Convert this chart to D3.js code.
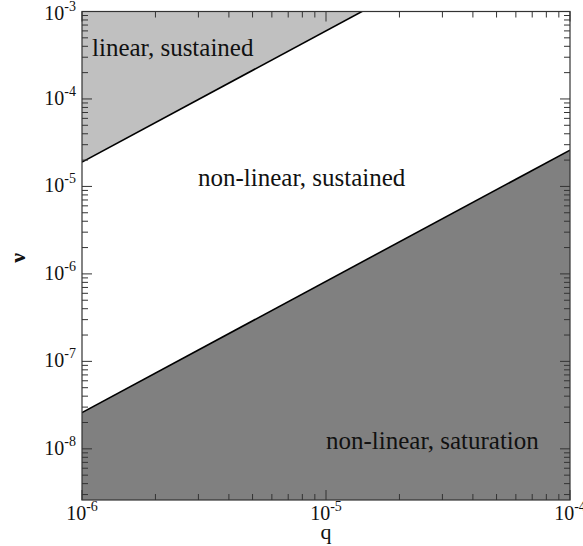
<!DOCTYPE html>
<html>
<head>
<meta charset="utf-8">
<script src="https://cdn.jsdelivr.net/npm/d3@7"></script>
<style>
  body { margin: 0; background: #fff; }
  svg text { font-family: 'Liberation Serif', 'Times New Roman', Times, 'DejaVu Serif', serif; fill: #111; }
</style>
</head>
<body>
<div id="chart"></div>
<script>
// axis ranges
var qDomain = [1e-6, 1e-4];
var nuDomain = [2.6e-9, 1e-3];
var xTickLabels = ['-6', '-5', '-4'];
var yTickLabels = ['-8', '-7', '-6', '-5', '-4', '-3'];

// boundaries (nu at q = 1e-6 and q = 1e-4)
var boundaryQ = [1e-6, 1e-4];
var upperNu = [1.9e-5, 1.9e-2];
var lowerNu = [2.6e-8, 2.6e-5];

var regionNames = ['linear, sustained', 'non-linear, sustained', 'non-linear, saturation'];

var width = 583, height = 546;
var margin = {top: 11.5, right: 13, bottom: 46, left: 82};

var svg = d3.select('#chart').append('svg')
	.attr('width', width)
	.attr('height', height);

var x = d3.scaleLog().domain(qDomain).range([margin.left, width - margin.right]);
var y = d3.scaleLog().domain(nuDomain).range([height - margin.bottom, margin.top]);

var x0 = x.range()[0], x1 = x.range()[1];
var yb = y.range()[0], yt = y.range()[1];

svg.append('clipPath').attr('id', 'plot')
	.append('rect')
	.attr('x', x0).attr('y', yt)
	.attr('width', x1 - x0).attr('height', yb - yt);

var upper = boundaryQ.map(function(q, i) { return {q: q, nu: upperNu[i]}; });
var lower = boundaryQ.map(function(q, i) { return {q: q, nu: lowerNu[i]}; });

var plot = svg.append('g').attr('clip-path', 'url(#plot)');

// saturation region (below lower line)
plot.append('path')
	.datum(lower)
	.attr('fill', '#808080')
	.attr('d', d3.area()
		.x(function(d) { return x(d.q); })
		.y0(yb)
		.y1(function(d) { return y(d.nu); }));

// linear region (above upper line)
plot.append('path')
	.datum(upper)
	.attr('fill', '#c0c0c0')
	.attr('d', d3.area()
		.x(function(d) { return x(d.q); })
		.y0(function(d) { return y(d.nu); })
		.y1(yt));

var line = d3.line()
	.x(function(d) { return x(d.q); })
	.y(function(d) { return y(d.nu); });

[upper, lower].forEach(function(b) {
	plot.append('path')
		.datum(b)
		.attr('fill', 'none')
		.attr('stroke', '#000')
		.attr('stroke-width', 1.6)
		.attr('d', line);
});

// ticks, inside on all four sides
var ticks = svg.append('g').attr('stroke', '#333').attr('stroke-width', 1);

function isMajor(v) {
	var l = Math.log10(v);
	return Math.abs(l - Math.round(l)) < 1e-6;
}

x.ticks().forEach(function(v) {
	var len = isMajor(v) ? 10 : 6;
	var px = x(v);
	ticks.append('line').attr('x1', px).attr('x2', px).attr('y1', yb).attr('y2', yb - len);
	ticks.append('line').attr('x1', px).attr('x2', px).attr('y1', yt).attr('y2', yt + len);
});

y.ticks().forEach(function(v) {
	var len = isMajor(v) ? 10 : 6;
	var py = y(v);
	ticks.append('line').attr('x1', x0).attr('x2', x0 + len).attr('y1', py).attr('y2', py);
	ticks.append('line').attr('x1', x1).attr('x2', x1 - len).attr('y1', py).attr('y2', py);
});

// frame
svg.append('rect')
	.attr('x', x0).attr('y', yt)
	.attr('width', x1 - x0).attr('height', yb - yt)
	.attr('fill', 'none')
	.attr('stroke', '#333')
	.attr('stroke-width', 1.2);

// tick labels
var xMajor = x.ticks().filter(isMajor);
xMajor.forEach(function(v, i) {
	var t = svg.append('text')
		.attr('x', x(v))
		.attr('y', 520)
		.attr('text-anchor', 'middle')
		.style('font-size', '20px');
	t.append('tspan').text('10');
	t.append('tspan').attr('dy', -9).style('font-size', '14px').text(xTickLabels[i]);
});

var yMajor = y.ticks().filter(isMajor);
yMajor.forEach(function(v, i) {
	var py = Math.max(y(v) + 6, 20);
	var t = svg.append('text')
		.attr('x', 76)
		.attr('y', py)
		.attr('text-anchor', 'end')
		.style('font-size', '20px');
	t.append('tspan').text('10');
	t.append('tspan').attr('dy', -9).style('font-size', '14px').text(yTickLabels[i]);
});

// axis titles
svg.append('text')
	.attr('x', (x0 + x1) / 2)
	.attr('y', 539)
	.attr('text-anchor', 'middle')
	.style('font-size', '22px')
	.text('q');

svg.append('text')
	.attr('transform', 'translate(25,' + ((yt + yb) / 2 + 2) + ') rotate(-90)')
	.attr('text-anchor', 'middle')
	.style('font-size', '22px')
	.style('font-weight', 'bold')
	.text('ν');

// region labels
var labelPos = [[92, 56], [198, 186], [326, 449]];
regionNames.forEach(function(name, i) {
	svg.append('text')
		.attr('x', labelPos[i][0])
		.attr('y', labelPos[i][1])
		.style('font-size', '25px')
		.text(name);
});
</script>
</body>
</html>
